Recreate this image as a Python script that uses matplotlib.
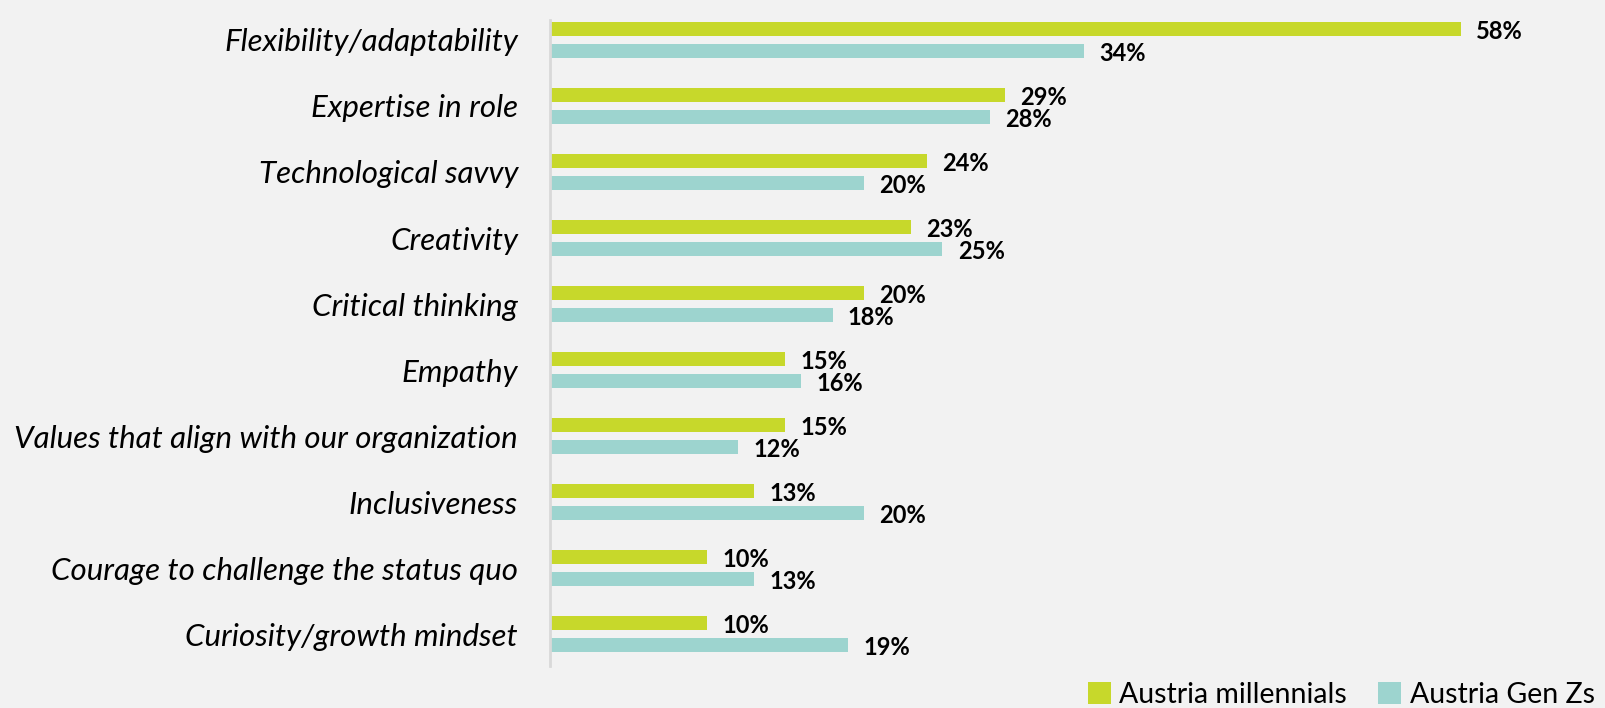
import matplotlib.pyplot as plt
import numpy as np

# Data
categories = ["Flexibility/adaptability", "Expertise in role", "Technological savvy",
              "Creativity", "Critical thinking", "Empathy",
              "Values that align with our organization", "Inclusiveness",
              "Courage to challenge the status quo", "Curiosity/growth mindset"]
millennials = [58, 29, 24, 23, 20, 15, 15, 13, 10, 10]
gen_z = [34, 28, 20, 25, 18, 16, 12, 20, 13, 19]
series_names = ["Austria millennials", "Austria Gen Zs"]

green = '#C7D82B'
teal = '#9DD4CF'
bg = '#F2F2F2'

plt.rcParams['font.family'] = ['Lato', 'DejaVu Sans']

W, H = 1606, 708
fig = plt.figure(figsize=(W / 100, H / 100), dpi=100, facecolor=bg)

# axes placed in pixel terms
left, top, bottom = 550, 20, 666
ax = fig.add_axes([left / W, (H - bottom) / H, (W - left) / W, (bottom - top) / H])
ax.set_facecolor(bg)

y = np.arange(len(categories))
off = 11 / 66
bh = 14 / 66
ax.barh(y - off, millennials, height=bh, color=green, label=series_names[0])
ax.barh(y + off, gen_z, height=bh, color=teal, label=series_names[1])

ax.set_xlim(0, (W - left) / 15.7)
ax.set_ylim(9 + 32 / 66, -20 / 66)

#value labels
for i in range(len(categories)):
    ax.annotate(f"{millennials[i]}%", (millennials[i], y[i] - off), xytext=(11, -1.5),
                textcoords='offset points', va='center', ha='left',
                fontsize=17, fontweight='bold', color='black')
    ax.annotate(f"{gen_z[i]}%", (gen_z[i], y[i] + off), xytext=(11, -1.5),
                textcoords='offset points', va='center', ha='left',
                fontsize=17, fontweight='bold', color='black')

ax.set_yticks(y)
ax.set_yticklabels(categories, fontsize=22.5, fontstyle='italic')
ax.tick_params(axis='y', length=0, pad=23)
ax.set_xticks([])

for s in ['top', 'right', 'bottom']:
    ax.spines[s].set_visible(False)
ax.spines['left'].set_color('#D9D9D9')
ax.spines['left'].set_linewidth(2)

fig.legend(loc='lower right', bbox_to_anchor=(1.0, -0.016), ncol=2, frameon=False,
           fontsize=20.5, handlelength=0.8, handleheight=0.8, handletextpad=0.3,
           columnspacing=1.1, borderaxespad=0)

plt.savefig('out.png', dpi=100, facecolor=bg)
